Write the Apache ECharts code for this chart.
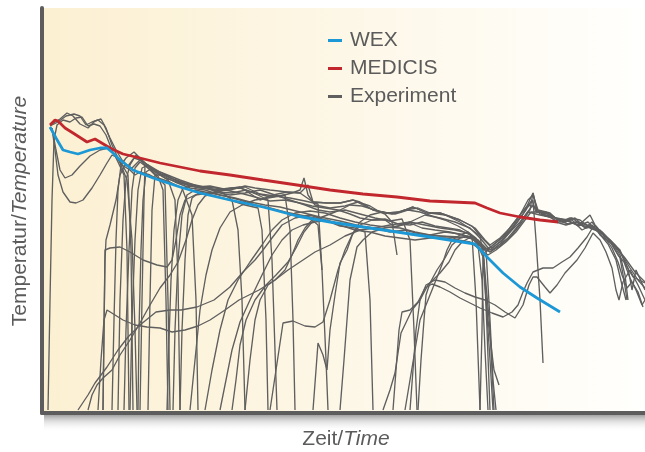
<!DOCTYPE html>
<html>
<head>
<meta charset="utf-8">
<script src="https://cdn.jsdelivr.net/npm/echarts@6/dist/echarts.min.js"></script>
<style>
  html, body { margin: 0; padding: 0; background: #ffffff; }
  #chart { width: 645px; height: 452px; }
</style>
</head>
<body>
<div id="chart"></div>
<script>
// Time / temperature traces: [time, temperature] in arbitrary units.
const seriesNames = ['WEX', 'MEDICIS', 'Experiment'];

const wexCurve = [
  [8,283],[14,272],[21,260],[28,258],[36,256],[48,260],[58,262],[65,262],[71,257],[78,250],
  [91,240],[111,232],[138,223],[158,217],[188,210],[221,203],[255,194],[288,188],[321,183],
  [355,178],[388,173],[433,166],[445,153],[461,137],[478,123],[495,112],[518,98]
];

const medicisCurve = [
  [8,285],[13,290],[16,289],[23,282],[31,277],[45,268],[53,271],[58,268],[68,262],[81,256],
  [98,252],[118,247],[138,243],[158,239],[188,235],[221,230],[255,225],[288,220],[321,216],
  [355,213],[388,209],[433,207],[445,202],[458,197],[478,193],[498,190],[516,188]
];

const experimentRuns = [
  [[6,0],[8,110],[10,210],[12,270],[15,285],[21,290],[28,288],[34,292],[40,293],[46,284],[52,286],[58,284],[64,275],[70,260],[76,248],[82,235],[85,160],[87,0]],
  [[10,282],[14,260],[18,240],[23,232],[30,235],[38,244],[48,254],[58,260],[66,262],[73,255],[80,245],[88,240],[93,235],[98,238],[108,235],[118,230],[123,225],[126,110],[128,0]],
  [[10,282],[13,260],[16,235],[21,218],[28,208],[34,207],[41,210],[50,222],[58,235],[65,247],[70,255],[76,252],[81,240],[85,230],[90,170],[93,80],[95,0]],
  [[8,284],[16,288],[24,294],[32,296],[38,294],[44,285],[50,288],[56,290],[62,285],[68,272],[74,260],[80,250],[86,244],[92,252],[98,250],[106,242],[116,232],[128,228],[140,222],[150,195],[154,110],[156,0]],
  [[10,286],[18,291],[25,297],[31,294],[38,286],[46,282],[53,289],[59,291],[64,282],[70,265],[76,252],[82,242],[86,235],[89,160],[91,0]],
  [[61,0],[62,80],[63,150],[64,170],[68,185],[74,210],[78,235],[83,245],[90,242],[98,250],[108,244],[118,238],[133,230],[148,224],[163,222],[178,219],[190,210],[196,180],[200,110],[203,0]],
  [[70,0],[72,90],[74,170],[76,220],[79,245],[84,252],[92,258],[100,250],[110,240],[123,232],[138,227],[154,223],[168,224],[182,221],[198,222],[213,217],[228,213],[243,215],[248,180],[251,90],[253,0]],
  [[76,0],[78,110],[81,190],[84,230],[88,245],[94,255],[102,248],[113,238],[126,230],[133,210],[136,130],[138,0]],
  [[82,0],[84,80],[87,160],[90,220],[93,242],[98,248],[106,242],[116,234],[121,220],[124,110],[126,0]],
  [[88,0],[90,90],[93,170],[96,220],[100,242],[106,245],[115,238],[128,232],[143,227],[158,224],[173,220],[188,222],[203,223],[218,216],[233,214],[248,212],[263,209],[276,206],[280,140],[284,50],[286,0]],
  [[96,0],[97,80],[99,160],[101,210],[104,238],[110,242],[120,235],[133,228],[148,222],[163,220],[178,215],[193,212],[208,208],[223,205],[238,203],[258,198],[278,193],[298,189],[318,184],[338,181],[358,178],[378,175],[398,174],[416,172],[430,174],[434,110],[438,0]],
  [[61,0],[62,80],[63,160],[68,162],[78,163],[88,158],[101,150],[115,145],[125,143],[130,150],[134,170],[138,195],[143,210],[153,215],[168,217],[183,214],[198,210],[213,205],[228,202],[243,198],[258,195],[273,192],[288,188],[303,186],[318,183],[333,182],[348,178],[363,180],[378,176],[398,174],[418,173],[433,172],[441,160],[448,80],[452,0]],
  [[56,0],[59,50],[62,90],[65,100],[73,95],[81,90],[93,85],[105,83],[118,82],[130,78],[143,80],[156,84],[168,90],[183,100],[197,110],[217,120],[233,130],[246,140],[258,148],[273,158],[288,165],[303,174],[318,180],[333,182],[348,185],[368,188],[383,195],[398,192],[413,188],[428,182],[438,172],[448,160],[458,168],[468,178],[478,188],[486,198],[498,195],[513,192],[523,190],[533,186],[543,184],[553,181],[563,174],[573,164],[583,152],[593,138],[603,128]],
  [[36,0],[46,15],[53,27],[65,43],[76,60],[86,73],[98,85],[114,98],[128,100],[139,100],[155,103],[172,110],[188,123],[201,138],[213,150],[221,160],[230,172],[240,185],[253,192],[268,195],[283,190],[298,184],[313,182],[323,178],[328,110],[331,0]],
  [[46,0],[50,15],[55,25],[61,32],[70,40],[78,55],[88,70],[98,87],[108,105],[118,122],[128,135],[136,148],[144,170],[150,190],[156,205],[163,214],[173,218],[188,215],[203,217],[218,220],[233,215],[248,210],[263,205],[276,200],[288,198],[303,200],[318,196],[333,192],[348,189],[360,191],[368,170],[372,80],[375,0]],
  [[125,0],[127,70],[129,130],[132,180],[136,210],[141,222],[150,224],[163,222],[176,218],[190,217],[204,220],[216,215],[226,210],[230,150],[233,60],[235,0]],
  [[131,0],[133,80],[136,150],[140,195],[145,215],[153,220],[168,217],[183,220],[198,217],[213,213],[228,209],[243,210],[258,207],[270,204],[283,202],[296,200],[308,196],[318,192],[330,190],[343,190],[353,183],[368,188],[383,185],[398,182],[413,180],[426,177],[436,170],[448,158],[458,164],[470,175],[480,188],[488,200],[491,217],[495,200],[503,195],[513,190],[523,188],[533,192],[543,182],[550,188],[558,178],[568,170],[578,158],[586,142],[590,120],[594,140],[603,120]],
  [[138,0],[140,80],[143,150],[146,195],[150,212],[158,218],[173,214],[188,210],[203,205],[216,202],[220,180],[224,90],[226,0]],
  [[148,0],[153,50],[158,100],[164,135],[170,160],[178,182],[188,198],[200,205],[213,210],[226,212],[238,214],[250,217],[258,220],[262,232],[266,215],[273,205],[288,202],[303,204],[316,208],[328,204],[338,198],[350,196],[363,200],[376,202],[388,197],[403,195],[418,188],[430,180],[438,174],[442,150],[445,80],[448,0]],
  [[163,0],[170,40],[178,80],[186,110],[196,130],[208,148],[220,165],[230,180],[240,190],[253,197],[268,199],[283,197],[298,192],[313,188],[328,185],[343,183],[358,182],[373,178],[388,175],[403,178],[418,176],[430,172],[436,165],[440,130],[443,60],[446,0]],
  [[178,0],[184,30],[190,60],[198,88],[208,110],[220,135],[230,155],[240,170],[250,180],[261,185],[273,188],[286,190],[298,185],[313,180],[328,178],[343,174],[358,172],[373,170],[388,172],[403,172],[416,170],[428,168],[436,162],[446,155],[454,160],[464,168],[474,178],[483,190],[489,198],[498,198],[508,196],[516,190],[526,186],[536,188],[548,184],[560,178],[570,167],[578,155],[583,135],[586,110]],
  [[190,0],[194,30],[198,65],[204,90],[213,110],[224,125],[234,135],[246,148],[254,162],[262,178],[270,188],[280,193],[288,196],[298,200],[308,205],[320,204],[333,200],[343,196],[350,188],[355,155]],
  [[228,0],[234,40],[241,87],[251,89],[263,84],[273,83],[281,88],[288,110],[296,140],[303,160],[310,175],[318,185],[330,190],[343,191],[356,186],[368,185],[380,188],[393,184],[406,182],[418,180],[428,175],[436,170],[444,158],[452,166],[462,174],[472,184],[480,194],[486,205],[491,210],[494,170],[498,110],[501,47]],
  [[271,0],[274,40],[276,67],[281,55],[285,40],[288,80],[293,115],[298,147],[305,160],[311,177],[318,188],[328,195],[340,198],[353,196],[366,200],[378,198],[390,194],[403,190],[416,184],[426,178],[434,170],[442,160],[450,164],[460,172],[470,185],[478,195],[485,204],[491,217],[495,198],[506,196],[518,190],[530,190],[540,180],[550,185],[560,174],[570,166],[578,152],[582,130],[585,110]],
  [[298,0],[302,50],[308,130],[315,163],[321,170],[330,178],[343,182],[356,184],[368,187],[380,182],[393,180],[408,178],[420,175],[430,172],[438,167],[444,160],[448,90],[451,30],[454,0]],
  [[203,0],[208,50],[213,90],[218,110],[226,125],[233,130],[243,140],[250,155],[256,170],[263,182],[270,190],[276,185],[280,140]],
  [[341,0],[348,20],[353,37],[359,77],[370,100],[378,110],[386,125],[398,137],[407,148],[413,160],[420,168],[427,172],[434,170],[440,162],[448,158],[456,164],[466,172],[476,184],[484,196],[491,205],[498,196],[510,194],[520,188],[530,192],[538,186],[548,195],[558,175],[568,168],[576,155],[582,148],[588,132],[594,120],[600,105],[603,110]],
  [[351,0],[354,40],[357,80],[360,98],[368,100],[376,108],[383,122],[390,126],[398,123],[408,118],[418,112],[428,107],[438,102],[450,97],[461,93],[470,98],[476,105],[481,118],[485,127],[491,138],[501,142],[511,142],[520,148],[528,153],[536,162],[545,173],[551,183],[558,180],[566,172],[573,165],[580,155],[588,142],[596,130],[603,122]],
  [[368,0],[371,40],[374,80],[378,110],[384,125],[393,130],[403,128],[413,122],[423,117],[433,113],[443,110],[453,105],[463,98],[473,92],[481,105],[487,125],[491,133],[495,133],[503,123],[508,117],[515,125],[523,137],[535,150],[543,162],[551,177],[558,170],[564,158],[570,142],[574,120],[577,110],[581,128],[588,140],[596,125],[603,110]],
  [[363,0],[368,30],[373,60],[378,90],[386,110],[394,130],[401,148],[405,160],[410,170],[418,175],[426,178],[434,172],[438,160],[441,153],[444,110],[448,50],[451,0]],
  [[438,0],[440,80],[441,153],[446,90],[452,40],[457,25]],
  [[376,0],[379,50],[382,90],[384,115],[388,127],[395,140],[403,152],[410,165],[418,172],[426,174],[434,168],[442,162],[450,160],[458,166],[468,178],[478,192],[484,200],[490,210],[494,198],[504,198],[514,188],[524,185],[534,188],[544,182],[554,184],[562,174],[570,162],[576,148],[580,135],[585,122],[590,128],[596,118],[601,103]],
  [[98,0],[100,110],[102,210],[103,245],[118,238],[138,230],[158,223],[173,222],[188,220],[203,224],[213,222],[228,220],[245,218],[258,217],[271,208],[285,207],[298,207],[311,210],[331,200],[345,197],[358,198],[371,203],[385,197],[398,197],[418,190],[433,182],[443,170],[448,165],[458,172],[468,182],[478,195],[486,210],[491,215],[496,200],[508,197],[518,188],[528,192],[538,190],[548,182],[558,178],[568,170],[578,160],[585,143],[591,133],[603,127]],
  [[106,0],[108,110],[110,200],[113,235],[123,235],[138,228],[158,222],[178,220],[198,223],[218,210],[231,215],[245,218],[258,217],[266,225],[271,208],[285,207],[298,207],[311,210],[318,208],[331,200],[345,197],[358,198],[371,203],[385,197],[398,197],[418,190],[430,184],[440,172],[450,162],[460,170],[470,182],[480,198],[488,205],[493,202],[503,194],[514,192],[526,190],[536,184],[546,188],[556,178],[566,166],[574,150],[580,125],[584,110]]
];

const textColor = '#5b5b5b';
const axisColor = '#5d5d5d';
const font = '"Liberation Sans", Arial, Helvetica, sans-serif';

const chart = echarts.init(document.getElementById('chart'), null, { renderer: 'canvas' });

const experimentSeries = experimentRuns.map(run => ({
  name: seriesNames[2],
  type: 'line',
  data: run,
  showSymbol: false,
  symbol: 'none',
  silent: true,
  z: 2,
  lineStyle: { color: '#5f5f5f', width: 1.35 },
  itemStyle: { color: '#5f5f5f' }
}));

chart.setOption({
  animation: false,
  grid: {
    left: 42, right: 0, top: 8, bottom: 39,
    show: true,
    borderWidth: 0,
    backgroundColor: new echarts.graphic.LinearGradient(0, 0, 1, 0, [
      { offset: 0, color: '#fcf0d2' },
      { offset: 0.5, color: '#fdf7e7' },
      { offset: 1, color: '#fffffd' }
    ])
  },
  legend: {
    data: seriesNames,
    orient: 'vertical',
    left: 328,
    top: 30,
    padding: 0,
    icon: 'rect',
    itemWidth: 14,
    itemHeight: 3,
    itemGap: 7,
    textStyle: { color: textColor, fontSize: 21, fontFamily: font, lineHeight: 21, padding: [0, 0, 0, 3] },
    selectedMode: false
  },
  xAxis: {
    type: 'value', min: 0, max: 603,
    axisLine: { show: true, onZero: false, lineStyle: { color: axisColor, width: 4 } },
    axisTick: { show: false }, axisLabel: { show: false }, splitLine: { show: false }
  },
  yAxis: {
    type: 'value', min: -3, max: 402,
    axisLine: { show: true, onZero: false, lineStyle: { color: axisColor, width: 4 } },
    axisTick: { show: false }, axisLabel: { show: false }, splitLine: { show: false }
  },
  graphic: [
    {
      type: 'rect', silent: true, z: -1,
      shape: { x: 44, y: 415, width: 601, height: 17 },
      style: {
        fill: new echarts.graphic.LinearGradient(0, 0, 0, 1, [
          { offset: 0, color: 'rgba(100,100,100,0.6)' },
          { offset: 0.4, color: 'rgba(160,160,160,0.3)' },
          { offset: 1, color: 'rgba(255,255,255,0)' }
        ])
      }
    },
    {
      type: 'text', silent: true,
      x: 20, y: 211, rotation: Math.PI / 2,
      style: {
        text: '{a|Temperatur/}{b|Temperature}',
        align: 'center', verticalAlign: 'middle',
        rich: {
          a: { fontSize: 21, fontFamily: font, fill: textColor },
          b: { fontSize: 21, fontFamily: font, fontStyle: 'italic', fill: textColor }
        }
      }
    },
    {
      type: 'text', silent: true,
      x: 346, y: 439,
      style: {
        text: '{a|Zeit/}{b|Time}',
        align: 'center', verticalAlign: 'middle',
        rich: {
          a: { fontSize: 21, fontFamily: font, fill: textColor },
          b: { fontSize: 21, fontFamily: font, fontStyle: 'italic', fill: textColor }
        }
      }
    }
  ],
  series: experimentSeries.concat([
    {
      name: seriesNames[1], type: 'line', data: medicisCurve,
      showSymbol: false, symbol: 'none', z: 4,
      lineStyle: { color: '#c1272d', width: 2.8 }, itemStyle: { color: '#c1272d' }
    },
    {
      name: seriesNames[0], type: 'line', data: wexCurve,
      showSymbol: false, symbol: 'none', z: 5,
      lineStyle: { color: '#1c98d6', width: 2.8 }, itemStyle: { color: '#1c98d6' }
    }
  ])
});
</script>
</body>
</html>
